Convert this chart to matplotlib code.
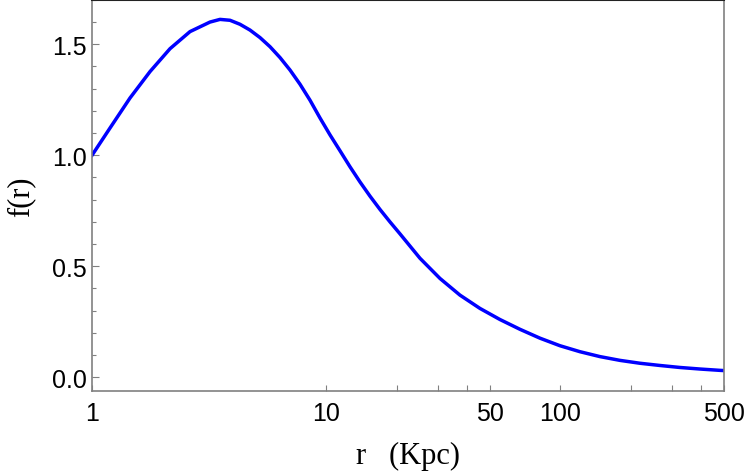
import matplotlib
matplotlib.use("Agg")
import matplotlib.pyplot as plt
from matplotlib.ticker import FixedLocator, MultipleLocator, NullFormatter

# Values
r_kpc = [1.0, 1.194, 1.453, 1.769, 2.153, 2.621, 3.190, 3.520, 3.885, 4.284,
         4.727, 5.217, 5.755, 6.351, 7.006, 7.730, 8.529, 9.409, 10.38, 11.46,
         12.64, 13.94, 15.38, 16.97, 18.72, 20.66, 25.15, 30.62, 37.26, 45.37,
         55.23, 67.22, 81.83, 99.61, 121.3, 147.6, 179.7, 218.7, 266.2, 324.1,
         394.5, 480.2, 500.0]
f_r = [1.000, 1.123, 1.258, 1.377, 1.480, 1.557, 1.600, 1.612, 1.608, 1.590,
       1.564, 1.530, 1.489, 1.440, 1.384, 1.320, 1.248, 1.168, 1.092, 1.020,
       0.948, 0.880, 0.816, 0.756, 0.700, 0.646, 0.536, 0.445, 0.370, 0.310,
       0.260, 0.216, 0.176, 0.142, 0.115, 0.093, 0.076, 0.063, 0.053, 0.044,
       0.037, 0.031, 0.030]

x_major = [1, 10, 50, 100, 500]
x_major_labels = ["1", "10", "50", "100", "500"]
x_minor = [20, 30, 40, 200, 300, 400]
y_major = [0.0, 0.5, 1.0, 1.5]
y_major_labels = ["0.0", "0.5", "1.0", "1.5"]

GRAY = "#808080"

fig = plt.figure(figsize=(7.47, 4.77), dpi=100)
ax = fig.add_axes([0.1232, 0.1782, 0.8460, 0.8200])

ax.plot(r_kpc, f_r, color="#0000ff", linewidth=2.5, solid_joinstyle="round")

ax.set_xscale("log")
ax.set_xlim(1, 500)
ax.set_ylim(-0.062, 1.70)

ax.xaxis.set_major_locator(FixedLocator(x_major))
ax.set_xticklabels(x_major_labels)
ax.xaxis.set_minor_locator(FixedLocator(x_minor))
ax.xaxis.set_minor_formatter(NullFormatter())
ax.yaxis.set_major_locator(FixedLocator(y_major))
ax.set_yticklabels(y_major_labels)
ax.yaxis.set_minor_locator(MultipleLocator(0.1))

for lab in ax.get_xticklabels() + ax.get_yticklabels():
    lab.set_fontfamily("Liberation Sans")
    lab.set_fontsize(18)

ax.tick_params(axis="both", which="both", direction="in", color=GRAY,
               top=False, right=False, labelcolor="black")
ax.tick_params(axis="x", which="major", length=4.5, width=0.8, pad=7)
ax.tick_params(axis="x", which="minor", length=4.5, width=0.8)
ax.tick_params(axis="y", which="major", length=5, width=0.8, pad=4)
ax.tick_params(axis="y", which="minor", length=3, width=0.8)

for side in ["left", "bottom", "right"]:
    ax.spines[side].set_color(GRAY)
    ax.spines[side].set_linewidth(1.2)
ax.spines["top"].set_color("#222222")
ax.spines["top"].set_linewidth(1.5)

ax.set_xlabel("r   (Kpc)", family="Liberation Serif", fontsize=22, labelpad=12)
ax.set_ylabel("f(r)", family="Liberation Serif", fontsize=22, labelpad=12)

fig.savefig("out.png", dpi=100)
